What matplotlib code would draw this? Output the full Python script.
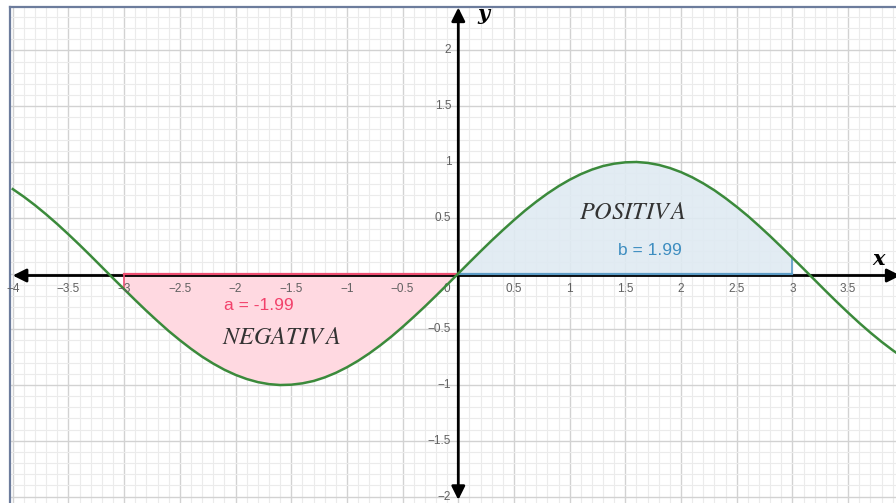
import matplotlib.pyplot as plt
import matplotlib.transforms as mtransforms
import numpy as np

plt.rcParams["mathtext.fontset"] = "stix"
plt.rcParams["axes.unicode_minus"] = True

# y = sin(x) read at 0.1 steps, x from -4 to 4
ys = [0.757, 0.688, 0.612, 0.530, 0.443, 0.351, 0.256, 0.158, 0.058, -0.042,
      -0.141, -0.239, -0.335, -0.427, -0.516, -0.598, -0.675, -0.746, -0.808,
      -0.863, -0.909, -0.946, -0.974, -0.992, -1.000, -0.997, -0.985, -0.964,
      -0.932, -0.891, -0.841, -0.783, -0.717, -0.644, -0.565, -0.479, -0.389,
      -0.296, -0.199, -0.100, 0.000, 0.100, 0.199, 0.296, 0.389, 0.479, 0.565,
      0.644, 0.717, 0.783, 0.841, 0.891, 0.932, 0.964, 0.985, 0.997, 1.000,
      0.992, 0.974, 0.946, 0.909, 0.863, 0.808, 0.746, 0.675, 0.598, 0.516,
      0.427, 0.335, 0.239, 0.141, 0.042, -0.058, -0.158, -0.256, -0.351,
      -0.443, -0.530, -0.612, -0.688, -0.757]
x_start, x_end = -4.0, 4.0

neg_range = (-3.0, 0.0)
pos_range = (0.0, 3.0)
area_a = -1.99
area_b = 1.99

x_ticks = [-4, -3.5, -3, -2.5, -2, -1.5, -1, -0.5, 0.5, 1, 1.5, 2, 2.5, 3, 3.5]
y_ticks = [-2, -1.5, -1, -0.5, 0.5, 1, 1.5, 2]

GREEN = "#3b8a3b"
PINK_FILL = "#ffd9e1"
PINK_EDGE = "#ee4f72"
PINK_TEXT = "#f2416b"
BLUE_FILL = "#dfeaf2"
BLUE_EDGE = "#5d9cc6"
BLUE_TEXT = "#3d8dc0"
TICK_GRAY = "#606060"

fig = plt.figure(figsize=(8.96, 5.03), dpi=100)
ax = fig.add_axes([10 / 896, 0, 886 / 896, 496 / 503])

# grid (ticks first, then limits so the view isn't widened)
ax.set_xticks(np.arange(-4, 4.01, 0.5))
ax.set_yticks(np.arange(-2, 2.41, 0.5))
ax.set_xticks(np.arange(-4, 4.01, 0.1), minor=True)
ax.set_yticks(np.arange(-2.1, 2.41, 0.1), minor=True)
ax.set_xlim(-4.025, 3.93)
ax.set_ylim(-2.058, 2.39)
ax.grid(which="major", color="#d2d2d2", lw=1.0, zorder=0)
ax.grid(which="minor", color="#ebebeb", lw=0.8, zorder=0)
ax.tick_params(which="both", length=0, labelbottom=False, labelleft=False)
ax.set_axisbelow(True)

for side in ["right", "bottom"]:
    ax.spines[side].set_visible(False)
for side in ["left", "top"]:
    ax.spines[side].set_color("#6c7c9c")
    ax.spines[side].set_linewidth(1.6)

x = np.round(np.linspace(x_start, x_end, len(ys)), 2)
y = np.array(ys)

# shaded regions
mn = (x >= neg_range[0]) & (x <= neg_range[1])
ax.fill_between(x[mn], y[mn], 0, facecolor=PINK_FILL, edgecolor="none", zorder=1)
ax.plot([neg_range[0], neg_range[1]], [0, 0], color=PINK_EDGE, lw=1.6, zorder=4)
ax.plot([neg_range[0], neg_range[0]], [0, y[mn][0]], color=PINK_EDGE, lw=1.2, zorder=4)

mp = (x >= pos_range[0]) & (x <= pos_range[1])
ax.fill_between(x[mp], y[mp], 0, facecolor=BLUE_FILL, edgecolor="none", alpha=0.9, zorder=1)
ax.plot([pos_range[0], pos_range[1]], [0, 0], color=BLUE_EDGE, lw=1.6, zorder=4)
ax.plot([pos_range[1], pos_range[1]], [0, y[mp][-1]], color=BLUE_EDGE, lw=1.2, zorder=4)

# main axes with arrows
head = "<|-|>,head_length=0.8,head_width=0.4"
shift = mtransforms.offset_copy(ax.transData, fig=fig, x=0, y=-2, units="dots")
ax.annotate("", xy=(3.97, 0), xytext=(-4.0, 0), xycoords=shift, textcoords=shift,
            arrowprops=dict(arrowstyle=head, color="black", lw=2.0,
                            shrinkA=0, shrinkB=0), zorder=3)
ax.annotate("", xy=(0, 2.385), xytext=(0, -2.03),
            arrowprops=dict(arrowstyle=head, color="black", lw=2.0,
                            shrinkA=0, shrinkB=0), zorder=3)

# curve
ax.plot(x, y, color=GREEN, lw=1.8, zorder=5)

# tick labels
tick_font = dict(fontsize=8.5, color=TICK_GRAY, family="Liberation Sans")
xlab = mtransforms.offset_copy(ax.transData, fig=fig, x=0, y=-15, units="dots")
for t in x_ticks:
    ax.text(t, 0, f"{t:g}".replace("-", "\u2212"), transform=xlab,
            ha="center", va="center", zorder=6, **tick_font)
ax.text(-0.1, 0, "0", transform=xlab, ha="center", va="center", zorder=2, **tick_font)
ylab = mtransforms.offset_copy(ax.transData, fig=fig, x=-7, y=0, units="dots")
for t in y_ticks:
    ax.text(0, t, f"{t:g}".replace("-", "\u2212"), transform=ylab,
            ha="right", va="center", zorder=6, **tick_font)

# axis names
ax.text(3.77, 0.13, "x", fontsize=15, fontstyle="italic", fontweight="bold",
        family="DejaVu Serif", ha="center", va="center", zorder=6)
ax.text(0.23, 2.33, "y", fontsize=15, fontstyle="italic", fontweight="bold",
        family="DejaVu Serif", ha="center", va="center", zorder=6)

# region labels
ax.text(1.57, 0.55, r"$POSITIV\,A$", fontsize=17.5, color="#333333",
        ha="center", va="center", zorder=6)
ax.text(-1.59, -0.57, r"$NEGATIV\,A$", fontsize=17.5, color="#333333",
        ha="center", va="center", zorder=6)
ax.text(1.72, 0.21, f"b = {area_b:.2f}", fontsize=12.5, color=BLUE_TEXT,
        family="Liberation Sans", ha="center", va="center", zorder=6)
ax.text(-1.79, -0.29, f"a = {area_a:.2f}", fontsize=12.5, color=PINK_TEXT,
        family="Liberation Sans", ha="center", va="center", zorder=6)

fig.savefig("out.png", dpi=100)
